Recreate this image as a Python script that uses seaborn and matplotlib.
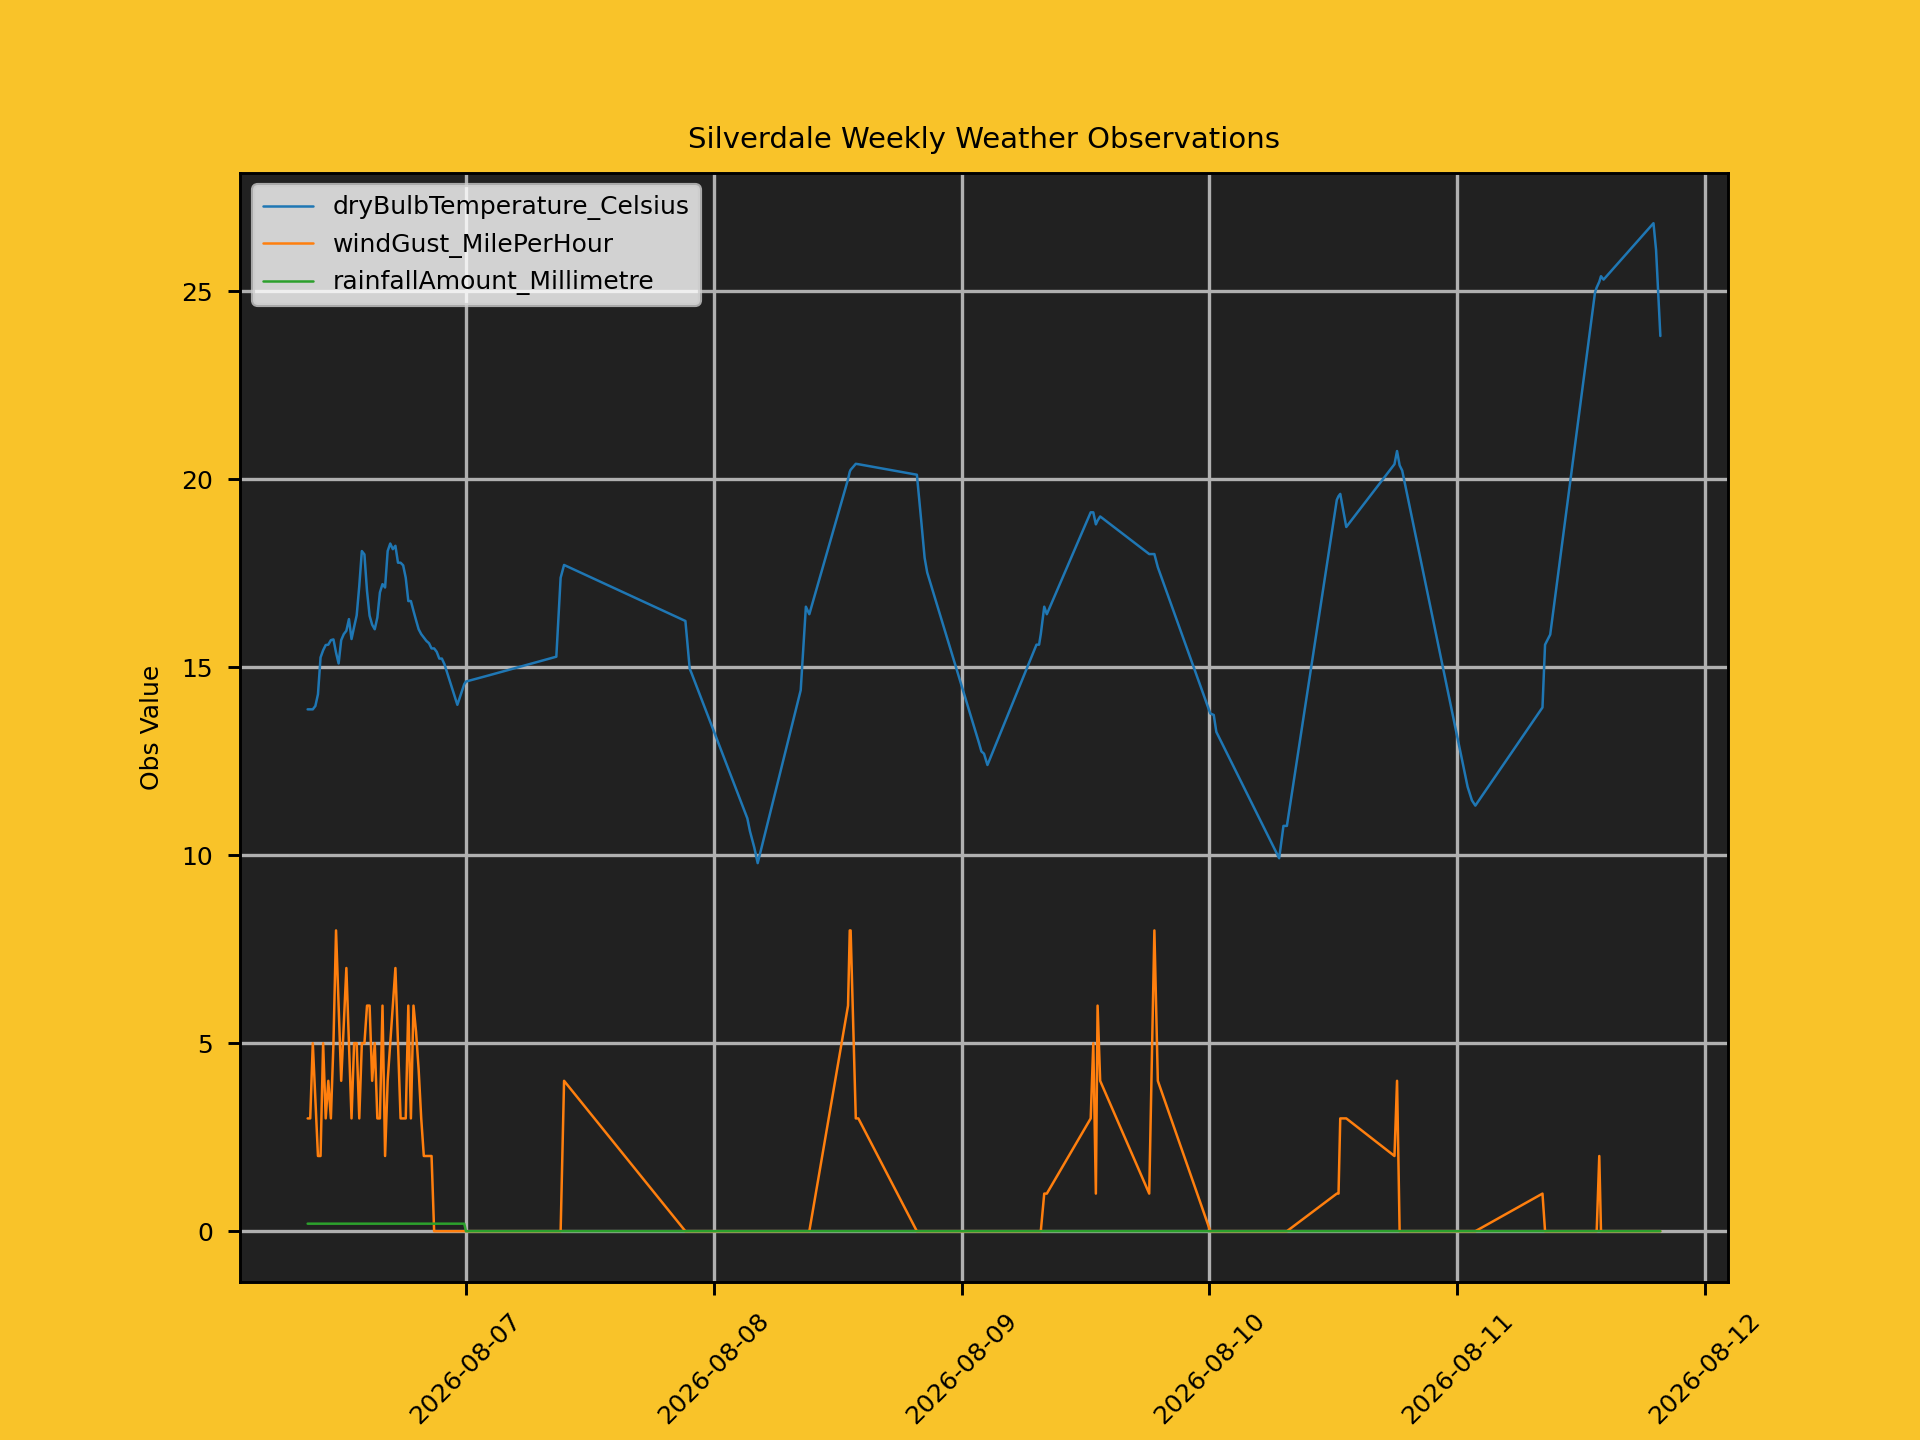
import matplotlib
matplotlib.use("Agg")
import matplotlib.pyplot as plt
import matplotlib.dates as mdates
import numpy as np
import pandas as pd
import seaborn as sns

# observation times (2026)
obs_times = [
    "08-06 08:40", "08-06 08:55", "08-06 09:10", "08-06 09:25", "08-06 09:40", "08-06 09:55",
    "08-06 10:10", "08-06 10:25", "08-06 10:40", "08-06 10:55", "08-06 11:10", "08-06 11:25",
    "08-06 11:40", "08-06 11:55", "08-06 12:10", "08-06 12:25", "08-06 12:40", "08-06 12:55",
    "08-06 13:10", "08-06 13:25", "08-06 13:40", "08-06 13:55", "08-06 14:10", "08-06 14:25",
    "08-06 14:40", "08-06 14:55", "08-06 15:10", "08-06 15:25", "08-06 15:40", "08-06 15:55",
    "08-06 16:10", "08-06 16:25", "08-06 16:40", "08-06 16:55", "08-06 17:10", "08-06 17:25",
    "08-06 17:40", "08-06 17:55", "08-06 18:10", "08-06 18:25", "08-06 18:40", "08-06 18:55",
    "08-06 19:10", "08-06 19:25", "08-06 19:40", "08-06 19:55", "08-06 20:10", "08-06 20:25",
    "08-06 20:40", "08-06 20:55", "08-06 21:10", "08-06 21:25", "08-06 21:40", "08-06 21:55",
    "08-06 23:10", "08-06 23:50",
    "08-07 00:00", "08-07 02:10", "08-07 08:45", "08-07 09:10", "08-07 09:30", "08-07 21:15",
    "08-07 21:40", "08-07 21:50",
    "08-08 03:15", "08-08 03:30", "08-08 03:55", "08-08 04:15", "08-08 08:25", "08-08 08:55",
    "08-08 09:15", "08-08 13:00", "08-08 13:10", "08-08 13:15", "08-08 13:45", "08-08 14:00",
    "08-08 19:40", "08-08 20:05", "08-08 20:25", "08-08 20:40",
    "08-09 01:40", "08-09 01:55", "08-09 02:10", "08-09 02:30", "08-09 07:15", "08-09 07:30",
    "08-09 07:40", "08-09 08:00", "08-09 08:15", "08-09 12:30", "08-09 12:45", "08-09 13:00",
    "08-09 13:10", "08-09 13:25", "08-09 18:10", "08-09 18:40", "08-09 19:00",
    "08-10 00:05", "08-10 00:25", "08-10 00:40", "08-10 06:45", "08-10 07:10", "08-10 07:30",
    "08-10 12:20", "08-10 12:30", "08-10 12:40", "08-10 13:15", "08-10 17:55", "08-10 18:10",
    "08-10 18:25", "08-10 18:40",
    "08-11 01:00", "08-11 01:25", "08-11 01:45", "08-11 08:15", "08-11 08:30", "08-11 09:00",
    "08-11 13:20", "08-11 13:30", "08-11 13:45", "08-11 13:55", "08-11 14:10", "08-11 19:00",
    "08-11 19:15", "08-11 19:40",
]

temperature_c = [
    13.88, 13.88, 13.88, 13.97, 14.28, 15.26,
    15.45, 15.59, 15.60, 15.72, 15.74, 15.39,
    15.10, 15.72, 15.88, 15.97, 16.28, 15.75,
    16.07, 16.38, 17.16, 18.09, 18.00, 17.03,
    16.37, 16.13, 16.01, 16.32, 16.99, 17.21,
    17.12, 18.09, 18.29, 18.14, 18.23, 17.78,
    17.78, 17.71, 17.38, 16.76, 16.76, 16.50,
    16.25, 16.01, 15.88, 15.79, 15.70, 15.64,
    15.50, 15.50, 15.41, 15.23, 15.23, 15.08,
    14.00, 14.55,
    14.62, 14.78, 15.28, 17.38, 17.72, 16.23,
    14.96, 14.85,
    10.98, 10.64, 10.21, 9.79, 14.39, 16.61,
    16.41, 20.00, 20.20, 20.25, 20.41, 20.40,
    20.12, 18.91, 17.91, 17.52,
    13.00, 12.76, 12.70, 12.40, 15.60, 15.60,
    15.88, 16.61, 16.41, 19.12, 19.12, 18.80,
    18.90, 19.01, 18.01, 18.01, 17.66,
    13.77, 13.73, 13.28, 9.92, 10.78, 10.78,
    19.45, 19.55, 19.61, 18.73, 20.40, 20.75,
    20.37, 20.23,
    11.82, 11.46, 11.32, 13.93, 15.60, 15.87,
    24.96, 25.10, 25.25, 25.40, 25.31, 26.81,
    26.10, 23.81,
]

wind_gust_mph = [
    3, 3, 5, 3.5, 2, 2,
    5, 3, 4, 3, 5, 8,
    6, 4, 5.5, 7, 5, 3,
    5, 5, 3, 5, 5, 6,
    6, 4, 5, 3, 3, 6,
    2, 4, 5, 6, 7, 5,
    3, 3, 3, 6, 3, 6,
    5.3, 4.3, 3, 2, 2, 2,
    2, 0, 0, 0, 0, 0,
    0, 0,
    0, 0, 0, 0, 4, 0,
    0, 0,
    0, 0, 0, 0, 0, 0,
    0, 6, 8, 8, 3, 3,
    0, 0, 0, 0,
    0, 0, 0, 0, 0, 0,
    0, 1, 1, 3, 5, 1,
    6, 4, 1, 8, 4,
    0, 0, 0, 0, 0, 0,
    1, 1, 3, 3, 2, 4,
    0, 0,
    0, 0, 0, 1, 0, 0,
    0, 0, 2, 0, 0, 0,
    0, 0,
]

# 0.2 mm up to midnight on the 6th, nothing after
rainfall_mm = [0.2] * 56 + [0.0] * 69

series_names = ["dryBulbTemperature_Celsius", "windGust_MilePerHour", "rainfallAmount_Millimetre"]

df = pd.DataFrame({
    "time": pd.to_datetime(["2026-" + t for t in obs_times]),
    series_names[0]: temperature_c,
    series_names[1]: wind_gust_mph,
    series_names[2]: rainfall_mm,
})

sns.set_style("ticks", rc={
    "axes.facecolor": "#212121",
    "figure.facecolor": "#F9C329",
    "axes.edgecolor": "black",
    "axes.grid": True,
    "grid.color": "#b0b0b0",
    "grid.linewidth": 0.8,
    "text.color": "black",
    "axes.labelcolor": "black",
    "xtick.color": "black",
    "ytick.color": "black",
})
plt.rcParams["font.family"] = ["DejaVu Sans"]

fig, ax = plt.subplots(figsize=(6.4, 4.8), dpi=300)
palette = sns.color_palette("tab10")
for i, name in enumerate(series_names):
    sns.lineplot(data=df, x="time", y=name, ax=ax, label=name,
                 color=palette[i], linewidth=0.6, errorbar=None)

ax.set_axisbelow(True)
ax.xaxis.set_major_locator(mdates.DayLocator())
ax.xaxis.set_major_formatter(mdates.DateFormatter("%Y-%m-%d"))
ax.tick_params(axis="x", labelrotation=45, labelsize=6)
ax.tick_params(axis="y", labelsize=6)
ax.tick_params(length=3, width=0.7)
for s in ax.spines.values():
    s.set_linewidth(0.7)
ax.set_xlabel("")
ax.set_ylabel("Obs Value", fontsize=6)
ax.set_title("Silverdale Weekly Weather Observations", fontsize=7)
ax.legend(loc="upper left", fontsize=6, facecolor="white", edgecolor="0.8",
          framealpha=0.8, fancybox=True)

fig.savefig("out.png", dpi=300, facecolor=fig.get_facecolor())
